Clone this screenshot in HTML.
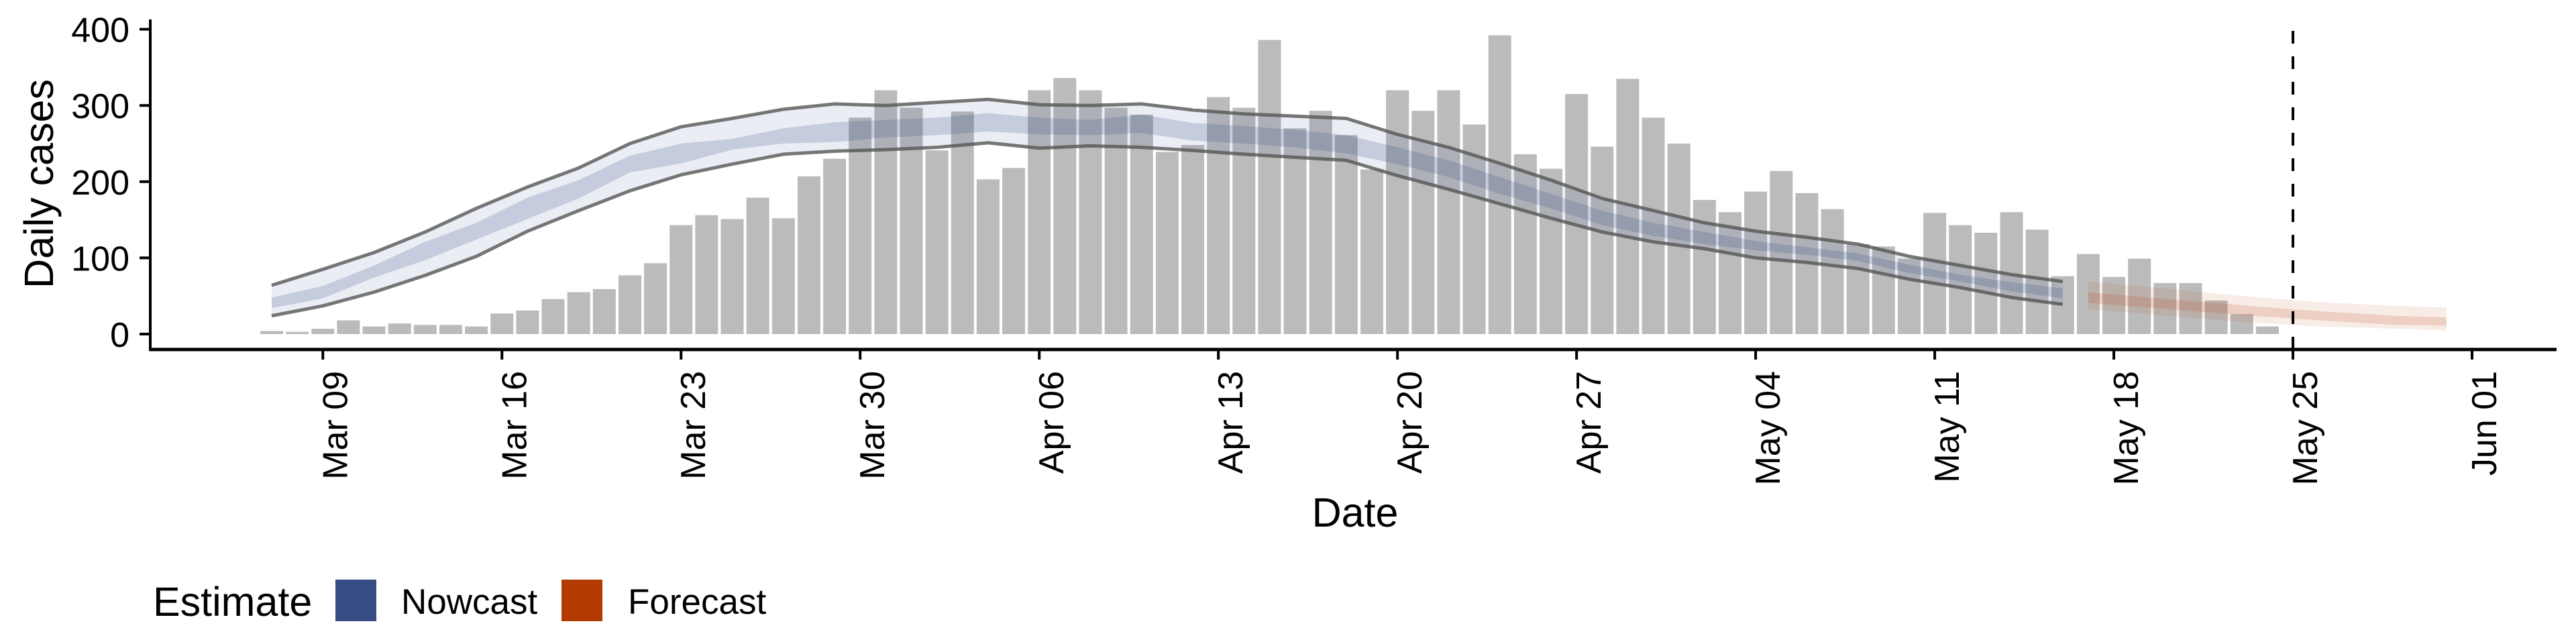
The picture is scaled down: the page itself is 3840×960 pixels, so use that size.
<!DOCTYPE html>
<html><head><meta charset="utf-8"><style>
html,body{margin:0;padding:0;background:#fff;}
svg{display:block;font-family:"Liberation Sans",Arial,sans-serif;}
</style></head><body>
<svg id="chart" width="3840" height="960" viewBox="0 0 3840 960" xmlns="http://www.w3.org/2000/svg">
<g id="bars"></g>
<g id="bands"></g>
<g id="axes"></g>
<g>
<text x="228" y="918" font-size="61">Estimate</text>
<rect x="500" y="864" width="61" height="62" fill="#364c82"/>
<text x="598" y="915" font-size="53">Nowcast</text>
<rect x="837" y="864" width="61" height="62" fill="#b33a00"/>
<text x="936" y="915" font-size="53">Forecast</text>
</g>
<text x="2020" y="785" font-size="61" text-anchor="middle">Date</text>
<text transform="translate(79,274) rotate(-90)" font-size="61" text-anchor="middle">Daily cases</text>
</svg>
<script>
// day offsets are days since Mar 07
const barValues = [4,3,7,18,10,14,12,12,10,27,31,46,55,59,77,93,143,156,151,179,152,207,230,284,320,
297,241,292,203,218,320,336,320,297,288,239,248,311,297,386,270,293,261,216,320,293,320,275,392,236,217,315,246,335,284,
250,176,160,187,214,185,164,118,115,99,159,143,133,160,137,76,105,75,99,67,67,44,26,10];
const nowDays = [0,2,4,6,8,10,12,14,16,18,20,22,24,26,28,30,32,34,36,38,40,42,44,46,48,50,52,54,56,58,60,62,64,66,68,70];
const nowUpper90 = [64,85,107,134,165,193,218,250,272,283,295,302,300,304,308,301,300,302,294,289,286,283,262,245,224,202,178,162,146,135,127,118,102,90,78,69];
const nowUpper50 = [48,63,90,121,146,179,202,234,250,256,270,278,281,284,290,284,281,288,277,273,268,261,245,228,206,184,162,146,134,122,114,106,91,78,68,60];
const nowLower50 = [34,47,74,97,124,151,178,212,224,242,250,252,258,261,266,262,261,264,254,250,245,237,223,206,184,165,143,129,118,110,104,96,80,69,56,47];
const nowLower90 = [24,37,55,77,102,135,162,188,209,223,236,240,242,245,251,244,247,245,241,236,232,228,208,190,171,152,134,121,112,100,94,86,72,61,48,39];
const fcDays = [71,74,77,80,83,85];
const fcUpper90 = [69,60,50,42,37,35];
const fcUpper50 = [55,46,38,30,24,22];
const fcLower50 = [41,33,25,18,12,11];
const fcLower90 = [33,24,16,10,7,5];
const xTickDays = [2,9,16,23,30,37,44,51,58,65,72,79,86];
const xTickLabels = ["Mar 09","Mar 16","Mar 23","Mar 30","Apr 06","Apr 13","Apr 20","Apr 27","May 04","May 11","May 18","May 25","Jun 01"];
const yTickValues = [0,100,200,300,400];
const vlineDay = 79;

const NS = "http://www.w3.org/2000/svg";
const X0 = 405, DAY = 38.14, Y0 = 498, YK = 1.136;
function xs(d){ return X0 + DAY*d; }
function ys(v){ return Y0 - v*YK; }
function mk(tag, attrs, parent){ const e=document.createElementNS(NS,tag); for(const k in attrs) e.setAttribute(k,attrs[k]); parent.appendChild(e); return e; }

const gb = document.getElementById('bars');
barValues.forEach((v,i)=>{
  const r = mk('rect',{x:xs(i)-17,y:ys(v),width:34,height:v*YK,fill:'#bbbbbb'},gb);
  
  
});

function band(days, up, lo, color, op, parent, name){
  let pts = days.map((d,i)=>xs(d)+','+ys(up[i]));
  for(let i=days.length-1;i>=0;i--) pts.push(xs(days[i])+','+ys(lo[i]));
  const p = mk('polygon',{points:pts.join(' '),fill:color,'fill-opacity':op},parent);
  
  
}
function line(days, vals, parent, name){
  const p = mk('polyline',{points:days.map((d,i)=>xs(d)+','+ys(vals[i])).join(' '),fill:'none',stroke:'#555','stroke-opacity':0.8,'stroke-width':5,'stroke-linejoin':'round'},parent);
  
  
}
const gd = document.getElementById('bands');
band(nowDays,nowUpper90,nowLower90,'rgb(52,75,135)',0.1,gd,'nowcast-90-band');
band(nowDays,nowUpper50,nowLower50,'rgb(52,75,135)',0.2,gd,'nowcast-50-band');
band(fcDays,fcUpper90,fcLower90,'rgb(185,70,20)',0.1,gd,'forecast-90-band');
band(fcDays,fcUpper50,fcLower50,'rgb(185,70,20)',0.17,gd,'forecast-50-band');
line(nowDays,nowUpper90,gd,'nowcast-upper-line');
line(nowDays,nowLower90,gd,'nowcast-lower-line');

const ga = document.getElementById('axes');
const vl = mk('line',{x1:xs(vlineDay),x2:xs(vlineDay),y1:46,y2:520,stroke:'#000','stroke-width':4,'stroke-dasharray':'19 19'},ga);


const xa = mk('line',{x1:222,x2:3811,y1:521,y2:521,stroke:'#000','stroke-width':5},ga);


const ya = mk('line',{x1:224,x2:224,y1:29,y2:523,stroke:'#000','stroke-width':4},ga);


xTickDays.forEach((d,i)=>{
  const x = xs(d);
  const t = mk('line',{x1:x,x2:x,y1:521,y2:536,stroke:'#000','stroke-width':4},ga);
  
  
  const tx = mk('text',{transform:`translate(${x+19},553) rotate(-90)`,'font-size':52,'text-anchor':'end','dominant-baseline':'central'},ga);
  tx.textContent = xTickLabels[i];
  
  
});
yTickValues.forEach(v=>{
  const y = ys(v);
  const t = mk('line',{x1:208,x2:224,y1:y,y2:y,stroke:'#000','stroke-width':4},ga);
  
  
  const tx = mk('text',{x:193,y:y+19,'font-size':52,'text-anchor':'end'},ga);
  tx.textContent = String(v);
  
  
});
</script>
</body></html>
